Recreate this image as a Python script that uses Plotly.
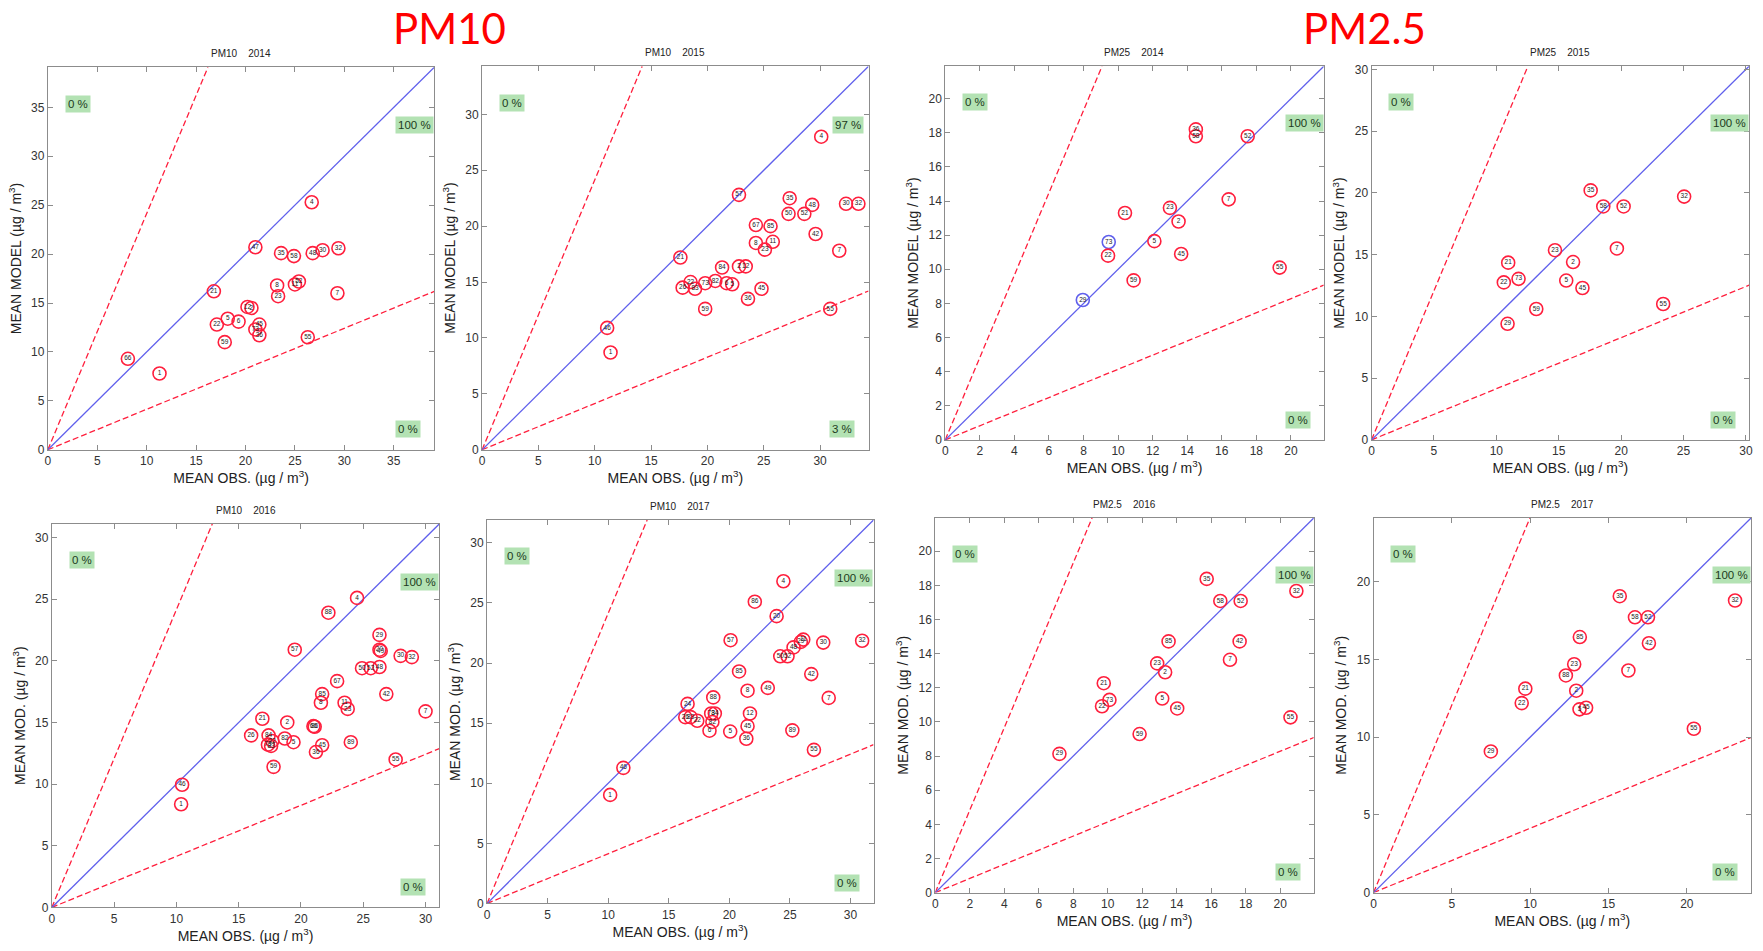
import plotly.graph_objects as go

# ---------------- data ----------------
# Panel 1: PM10 2014
p1_labels = ['66', '1', '21', '47', '4', '35', '58', '48', '30', '32', '8', '23', '11', '52', '7',
             '12', '2', '5', '6', '22', '59', '45', '73', '36', '55']
p1_obs = [8.1, 11.3, 16.8, 21.0, 26.7, 23.6, 24.9, 26.8, 27.8, 29.4, 23.2, 23.3, 25.0, 25.4, 29.3,
          20.2, 20.6, 18.2, 19.3, 17.1, 17.9, 21.4, 21.0, 21.4, 26.3]
p1_mod = [9.3, 7.8, 16.2, 20.7, 25.3, 20.1, 19.8, 20.1, 20.4, 20.6, 16.8, 15.7, 16.9, 17.2, 16.0,
          14.6, 14.5, 13.4, 13.1, 12.8, 11.0, 12.8, 12.3, 11.7, 11.5]

# Panel 2: PM10 2015
p2_labels = ['46', '1', '21', '57', '4', '35', '48', '30', '32', '50', '52', '67', '85', '42', '8', '11',
             '23', '7', '84', '2', '12', '22', '26', '83', '73', '82', '6', '5', '45', '36', '59', '55']
p2_obs = [11.1, 11.4, 17.6, 22.8, 30.1, 27.3, 29.3, 32.3, 33.4, 27.2, 28.6, 24.3, 25.6, 29.6, 24.3, 25.8,
          25.1, 31.7, 21.3, 22.8, 23.4, 18.5, 17.8, 18.9, 19.8, 20.7, 21.7, 22.2, 24.8, 23.6, 19.8, 30.9]
p2_mod = [10.9, 8.7, 17.2, 22.8, 28.0, 22.5, 21.9, 22.0, 22.0, 21.1, 21.1, 20.1, 20.0, 19.3, 18.5, 18.6,
          17.9, 17.8, 16.3, 16.4, 16.4, 15.0, 14.5, 14.4, 14.9, 15.1, 14.9, 14.8, 14.4, 13.5, 12.6, 12.6]

# Panel 3: PM25 2014
p3_labels = ['29', '73', '22', '21', '59', '5', '23', '2', '45', '36', '58', '52', '7', '55']
p3_obs = [7.96, 9.46, 9.42, 10.4, 10.9, 12.1, 13.0, 13.5, 13.65, 14.5, 14.5, 17.5, 16.4, 19.35]
p3_mod = [8.2, 11.6, 10.8, 13.3, 9.35, 11.65, 13.6, 12.8, 10.9, 18.2, 17.8, 17.8, 14.1, 10.1]
p3_blue_sites = ['29', '73']

# Panel 4: PM25 2015
p4_labels = ['35', '58', '52', '32', '7', '23', '21', '2', '22', '73', '5', '45', '59', '29', '55']
p4_obs = [17.56, 18.57, 20.2, 25.05, 19.66, 14.7, 10.95, 16.15, 10.6, 11.78, 15.6, 16.9, 13.2, 10.9, 23.37]
p4_mod = [20.2, 18.9, 18.9, 19.7, 15.5, 15.36, 14.35, 14.4, 12.75, 13.04, 12.9, 12.3, 10.6, 9.4, 11.0]

# Panel 5: PM10 2016
p5_labels = ['46', '1', '4', '88', '57', '29', '20', '49', '30', '32', '50', '52', '48', '67', '85', '42',
             '8', '11', '23', '7', '21', '2', '66', '86', '26', '84', '82', '5', '73', '22', '83', '36',
             '45', '89', '59', '55']
p5_obs = [10.46, 10.38, 24.5, 22.2, 19.5, 26.3, 26.3, 26.4, 28.0, 28.9, 24.9, 25.6, 26.3, 22.9, 21.7, 26.85,
          21.6, 23.5, 23.75, 30.0, 16.9, 18.9, 21.0, 21.1, 16.0, 17.4, 18.7, 19.4, 17.35, 17.7, 17.6, 21.2,
          21.7, 24.0, 17.8, 27.6]
p5_mod = [9.95, 8.37, 25.1, 23.9, 20.9, 22.1, 20.9, 20.8, 20.4, 20.3, 19.4, 19.4, 19.5, 18.35, 17.3, 17.3,
          16.6, 16.6, 16.1, 15.9, 15.3, 15.0, 14.7, 14.65, 13.95, 13.95, 13.7, 13.4, 13.2, 13.5, 13.1, 12.6,
          13.15, 13.4, 11.4, 12.0]

# Panel 6: PM10 2017
p6_labels = ['1', '46', '24', '26', '83', '22', '6', '88', '84', '73', '82', '5', '57', '85', '8', '12',
             '45', '36', '86', '4', '20', '48', '50', '52', '11', '29', '30', '32', '42', '49', '7', '89', '55']
p6_obs = [10.16, 11.25, 16.55, 16.36, 16.8, 17.35, 18.36, 18.67, 18.8, 18.5, 18.6, 20.07, 20.1, 20.8, 21.5,
          21.7, 21.5, 21.4, 22.1, 24.46, 23.9, 25.3, 24.2, 24.8, 26.1, 25.9, 27.75, 30.96, 26.76, 23.17,
          28.2, 25.2, 26.98]
p6_mod = [9.03, 11.28, 16.6, 15.5, 15.5, 15.2, 14.37, 17.14, 15.8, 15.8, 15.1, 14.3, 21.9, 19.3, 17.7,
          15.8, 14.75, 13.7, 25.1, 26.8, 23.9, 21.3, 20.56, 20.56, 21.95, 21.76, 21.7, 21.85, 19.08, 17.93,
          17.1, 14.4, 12.78]

# Panel 7: PM2.5 2016
p7_labels = ['29', '21', '22', '73', '59', '5', '45', '23', '2', '85', '35', '58', '52', '42', '7', '32', '55']
p7_obs = [7.2, 9.77, 9.67, 10.1, 11.85, 13.16, 14.03, 12.87, 13.33, 13.53, 15.74, 16.53, 17.71, 17.65,
          17.09, 20.94, 20.6]
p7_mod = [8.13, 12.27, 10.92, 11.29, 9.29, 11.37, 10.79, 13.43, 12.91, 14.72, 18.38, 17.09, 17.09, 14.72,
          13.64, 17.67, 10.27]

# Panel 8: PM2.5 2017
p8_labels = ['29', '21', '22', '88', '23', '2', '5', '45', '85', '35', '58', '52', '42', '7', '32', '55']
p8_obs = [7.49, 9.69, 9.46, 12.28, 12.81, 12.94, 13.15, 13.57, 13.17, 15.72, 16.69, 17.52, 17.58, 16.27,
          23.08, 20.45]
p8_mod = [9.08, 13.12, 12.19, 13.97, 14.69, 12.99, 11.79, 11.89, 16.44, 19.07, 17.71, 17.71, 16.04, 14.29,
          18.79, 10.54]

panel_titles = ['PM10    2014', 'PM10    2015', 'PM25    2014', 'PM25    2015',
                'PM10    2016', 'PM10    2017', 'PM2.5    2016', 'PM2.5    2017']
axis_max = [39.1, 34.3, 21.9, 30.25, 31.1, 31.9, 21.95, 24.1]
tick_step = [5, 5, 2, 5, 5, 5, 2, 5]
pct_upper = ['0 %', '0 %', '0 %', '0 %', '0 %', '0 %', '0 %', '0 %']
pct_mid = ['100 %', '97 %', '100 %', '100 %', '100 %', '100 %', '100 %', '100 %']
pct_low = ['0 %', '3 %', '0 %', '0 %', '0 %', '0 %', '0 %', '0 %']
x_title = 'MEAN OBS. (µg / m<sup>3</sup>)'
y_titles = ['MEAN MODEL (µg / m<sup>3</sup>)'] * 4 + ['MEAN MOD. (µg / m<sup>3</sup>)'] * 4
group_titles = ['PM10', 'PM2.5']

# reference line slopes (factor lines around the 1:1 line)
SLOPE_HI = 2.414
SLOPE_LO = 0.414

panels = [
    (p1_labels, p1_obs, p1_mod),
    (p2_labels, p2_obs, p2_mod),
    (p3_labels, p3_obs, p3_mod),
    (p4_labels, p4_obs, p4_mod),
    (p5_labels, p5_obs, p5_mod),
    (p6_labels, p6_obs, p6_mod),
    (p7_labels, p7_obs, p7_mod),
    (p8_labels, p8_obs, p8_mod),
]

# ---------------- layout geometry ----------------
W, H = 1763, 951
boxes = [(45, 433, 64, 451), (481, 869, 63, 451), (946, 1326, 63, 441), (1374, 1753, 63, 441),
         (49, 438, 526, 914), (486, 874, 522, 910), (936, 1316, 520, 899), (1376, 1755, 520, 899)]

RED = '#ff1f3d'
BLUE = '#6060ec'
FRAME = '#8c8c8c'
FONT = 'Liberation Sans'

fig = go.Figure()
annotations = []
layout_axes = {}

for i, ((labels, obs, mod), m) in enumerate(zip(panels, axis_max)):
    k = i + 1
    xa = 'x' if k == 1 else f'x{k}'
    ya = 'y' if k == 1 else f'y{k}'
    # reference lines
    fig.add_trace(go.Scatter(x=[0, m / SLOPE_HI], y=[0, m], mode='lines', xaxis=xa, yaxis=ya,
                             line=dict(color=RED, width=1.3, dash='6px,3px'), showlegend=False,
                             hoverinfo='skip'))
    fig.add_trace(go.Scatter(x=[0, m], y=[0, m * SLOPE_LO], mode='lines', xaxis=xa, yaxis=ya,
                             line=dict(color=RED, width=1.3, dash='6px,3px'), showlegend=False,
                             hoverinfo='skip'))
    fig.add_trace(go.Scatter(x=[0, m], y=[0, m], mode='lines', xaxis=xa, yaxis=ya,
                             line=dict(color=BLUE, width=1.3), showlegend=False, hoverinfo='skip'))
    colors = [BLUE if (k == 3 and lb in p3_blue_sites) else RED for lb in labels]
    fig.add_trace(go.Scatter(x=obs, y=mod, mode='markers+text', text=labels, xaxis=xa, yaxis=ya,
                             textposition='middle center',
                             textfont=dict(size=6.5, color='#222222', family=FONT),
                             marker=dict(symbol='circle-open', size=13,
                                         line=dict(width=1.6, color=colors), color=colors),
                             showlegend=False))

    x0, x1, y0, y1 = boxes[i]
    dom_x = [x0 / W, x1 / W]
    dom_y = [1 - y1 / H, 1 - y0 / H]
    axis_common = dict(range=[0, m], dtick=tick_step[i], tick0=0, showgrid=False, zeroline=False,
                       showline=True, mirror='ticks', linecolor=FRAME, linewidth=1,
                       ticks='inside', ticklen=5, tickcolor=FRAME,
                       tickfont=dict(size=12, color='#333333', family=FONT))
    layout_axes['xaxis' if k == 1 else f'xaxis{k}'] = dict(
        axis_common, domain=dom_x, anchor=ya,
        title=dict(text=x_title, font=dict(size=14, color='#222222', family=FONT), standoff=4))
    layout_axes['yaxis' if k == 1 else f'yaxis{k}'] = dict(
        axis_common, domain=dom_y, anchor=xa,
        title=dict(text=y_titles[i], font=dict(size=14, color='#222222', family=FONT), standoff=6))

    # subplot title
    annotations.append(dict(text=panel_titles[i], x=(dom_x[0] + dom_x[1]) / 2, y=dom_y[1] + 6 / H,
                            xref='paper', yref='paper', xanchor='center', yanchor='bottom',
                            showarrow=False, font=dict(size=10, color='#222222', family=FONT)))
    # percentage boxes
    for txt, fx, fy in ((pct_upper[i], 0.078, 0.905), (pct_mid[i], 0.948, 0.848),
                        (pct_low[i], 0.932, 0.054)):
        annotations.append(dict(text=txt, x=fx, y=fy, xref=f'{xa} domain', yref=f'{ya} domain',
                                xanchor='center', yanchor='middle', showarrow=False,
                                bgcolor='#b3e2b3', borderpad=2,
                                font=dict(size=11.5, color='#1c3a1c', family=FONT)))

# group titles
for txt, cx in zip(group_titles, (448, 1367)):
    annotations.append(dict(text=txt, x=cx / W, y=1 - 24 / H, xref='paper', yref='paper',
                            xanchor='center', yanchor='middle', showarrow=False,
                            font=dict(size=42, color='#ff0000', family='Lato')))

fig.update_layout(width=W, height=H, margin=dict(l=0, r=0, t=0, b=0),
                  paper_bgcolor='white', plot_bgcolor='white',
                  annotations=annotations, **layout_axes)

fig.write_html('out.html', config={'displayModeBar': False},
               post_script="document.body.style.margin='0';document.body.style.overflow='hidden';")
